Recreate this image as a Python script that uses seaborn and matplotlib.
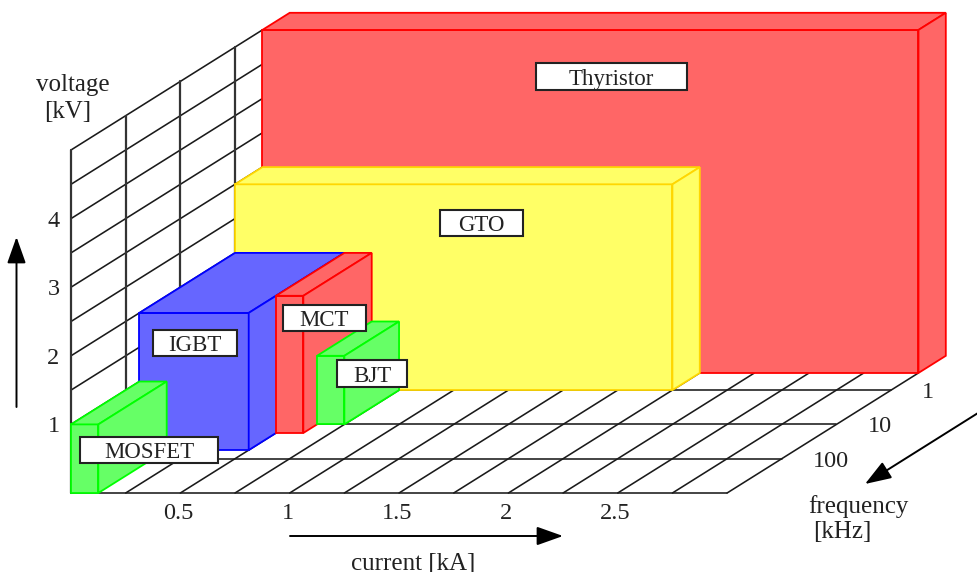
import numpy as np
import pandas as pd
import matplotlib.pyplot as plt
from matplotlib.patches import Rectangle
import seaborn as sns

# %%
# data
devices = ["Thyristor", "GTO", "IGBT", "MCT", "BJT", "MOSFET"]
current_lo = [0, 0, 0, 0.5, 0.625, 0]
current_hi = [3, 2, 0.5, 0.625, 0.75, 0.125]
freq_front = [0.316, 1, 56.2, 17.8, 10, 1000]
freq_back = [0.1, 0.316, 1, 1, 1, 56.2]
voltage = [5, 3, 2, 2, 1, 1]
face_colors = ["#ff6666", "#ffff66", "#6666ff", "#ff6666", "#66ff66", "#66ff66"]
edge_colors = ["#ff0000", "#ffd700", "#0000ff", "#ff0000", "#00ff00", "#00ff00"]

current_ticks = [0.5, 1, 1.5, 2, 2.5]
current_labels = ["0.5", "1", "1.5", "2", "2.5"]
voltage_ticks = [1, 2, 3, 4]
freq_ticks = [1, 10, 100]
current_grid = [0, 0.25, 0.5, 0.75, 1, 1.25, 1.5, 1.75, 2, 2.25, 2.5, 2.75, 3]
voltage_grid = [0.5, 1, 1.5, 2, 2.5, 3, 3.5, 4, 4.5, 5]
wall_freq = [1000, 100, 10, 1]
floor_freq = [1000, 100, 10, 1]
freq_min = 0.316

# %%
PX_KA = 218.7
PX_KV = 68.6
X0, Y0 = 71, 493


def depth(f):
    return 3 - np.log10(f)


def proj(current, f, kv):
    # oblique view: one decade of frequency moves 0.25 kA right and 0.5 kV up
    return current + 0.25 * depth(f), kv + 0.5 * depth(f)


def pos(px, py):
    return (px - X0) / PX_KA, (Y0 - py) / PX_KV


sns.set_theme(style="white")
plt.rcParams["font.family"] = ["Liberation Serif", "DejaVu Serif"]
TXT = "#222222"
FS = 16.5

fig = plt.figure(figsize=(9.78, 5.72), dpi=100)
ax = fig.add_axes([0, 0, 1, 1])
ax.set_xlim(pos(0, 0)[0], pos(978, 0)[0])
ax.set_ylim(pos(0, 572)[1], pos(0, 0)[1])
ax.axis("off")

# wall and floor grid
rows = []
n = 0
for v in voltage_grid:
    for f in [1000, freq_min]:
        x, y = proj(0, f, v)
        rows.append(("thin", n, x, y))
    n += 1
for c in current_grid:
    for f in [1000, freq_min]:
        x, y = proj(c, f, 0)
        rows.append(("thin", n, x, y))
    n += 1
for f in floor_freq:
    for c in [0, 3]:
        x, y = proj(c, f, 0)
        rows.append(("thin", n, x, y))
    n += 1
for f in wall_freq:
    for v in [0, 5]:
        x, y = proj(0, f, v)
        rows.append(("thick", n, x, y))
    n += 1
grid_df = pd.DataFrame(rows, columns=["kind", "line", "x", "y"])
for kind, lw in [("thin", 1.15), ("thick", 1.6)]:
    sns.lineplot(
        data=grid_df[grid_df["kind"] == kind],
        x="x",
        y="y",
        units="line",
        estimator=None,
        sort=False,
        color="#1a1a1a" if kind == "thin" else "#333333",
        linewidth=lw,
        legend=False,
        ax=ax,
        zorder=1,
    )
ax.set_xlim(pos(0, 0)[0], pos(978, 0)[0])
ax.set_ylim(pos(0, 572)[1], pos(0, 0)[1])

# boxes, back to front
for i in range(len(devices)):
    c0, c1 = current_lo[i], current_hi[i]
    f0, f1 = freq_front[i], freq_back[i]
    v = voltage[i]
    faces = [
        [(c0, f0, 0), (c1, f0, 0), (c1, f0, v), (c0, f0, v)],
        [(c0, f0, v), (c1, f0, v), (c1, f1, v), (c0, f1, v)],
        [(c1, f0, 0), (c1, f1, 0), (c1, f1, v), (c1, f0, v)],
    ]
    for face in faces:
        xy = [proj(*p) for p in face]
        ax.fill(
            [p[0] for p in xy],
            [p[1] for p in xy],
            facecolor=face_colors[i],
            edgecolor=edge_colors[i],
            linewidth=1.3,
            joinstyle="miter",
            zorder=2 + i,
        )

# device labels
label_boxes = {
    "Thyristor": (536, 63, 687, 90),
    "GTO": (440, 210, 523, 236),
    "IGBT": (153, 330, 237, 356),
    "MCT": (283, 305, 366, 331),
    "BJT": (337, 360, 407, 387),
    "MOSFET": (80, 437, 218, 463),
}
for name in devices:
    l, t, r, b = label_boxes[name]
    x0, y0 = pos(l, b)
    x1, y1 = pos(r, t)
    ax.add_patch(Rectangle((x0, y0), x1 - x0, y1 - y0, facecolor="white",
                           edgecolor="#222222", linewidth=1.5, zorder=10))
    ax.text((x0 + x1) / 2, (y0 + y1) / 2, name, ha="center", va="center_baseline",
            fontsize=FS, color=TXT, zorder=11)

# tick labels
for t, lab in zip(current_ticks, current_labels):
    ax.text(t - 0.01, pos(0, 511)[1], lab, ha="center", va="center_baseline",
            fontsize=FS + 1, color=TXT)
for t in voltage_ticks:
    ax.text(pos(53.5, 0)[0], t + 0.5 * 0, str(t), ha="center", va="center_baseline",
            fontsize=FS + 1, color=TXT)
for f in freq_ticks:
    x, y = proj(3, f, 0)
    ax.text(x + 0.142, y, str(f), ha="left", va="center_baseline",
            fontsize=FS + 1, color=TXT)

# axis titles
for s, px, py in [
    ("voltage", 73, 82),
    ("[kV]", 68, 110),
    ("current [kA]", 413, 561),
    ("frequency", 858, 504),
    ("[kHz]", 842, 529),
]:
    x, y = pos(px, py)
    ax.text(x, y, s, ha="center", va="center_baseline", fontsize=FS + 1.5, color=TXT)

# arrows
for start, end in [
    ((16.5, 407), (16.5, 237)),
    ((290, 536), (563, 536)),
    ((978, 413), (865, 484)),
]:
    ax.annotate(
        "",
        xy=pos(*end),
        xytext=pos(*start),
        arrowprops=dict(arrowstyle="-|>,head_length=0.9,head_width=0.32", color="black",
                        linewidth=1.4, mutation_scale=18, shrinkA=0, shrinkB=0),
    )

fig.savefig("out.png", dpi=100)
